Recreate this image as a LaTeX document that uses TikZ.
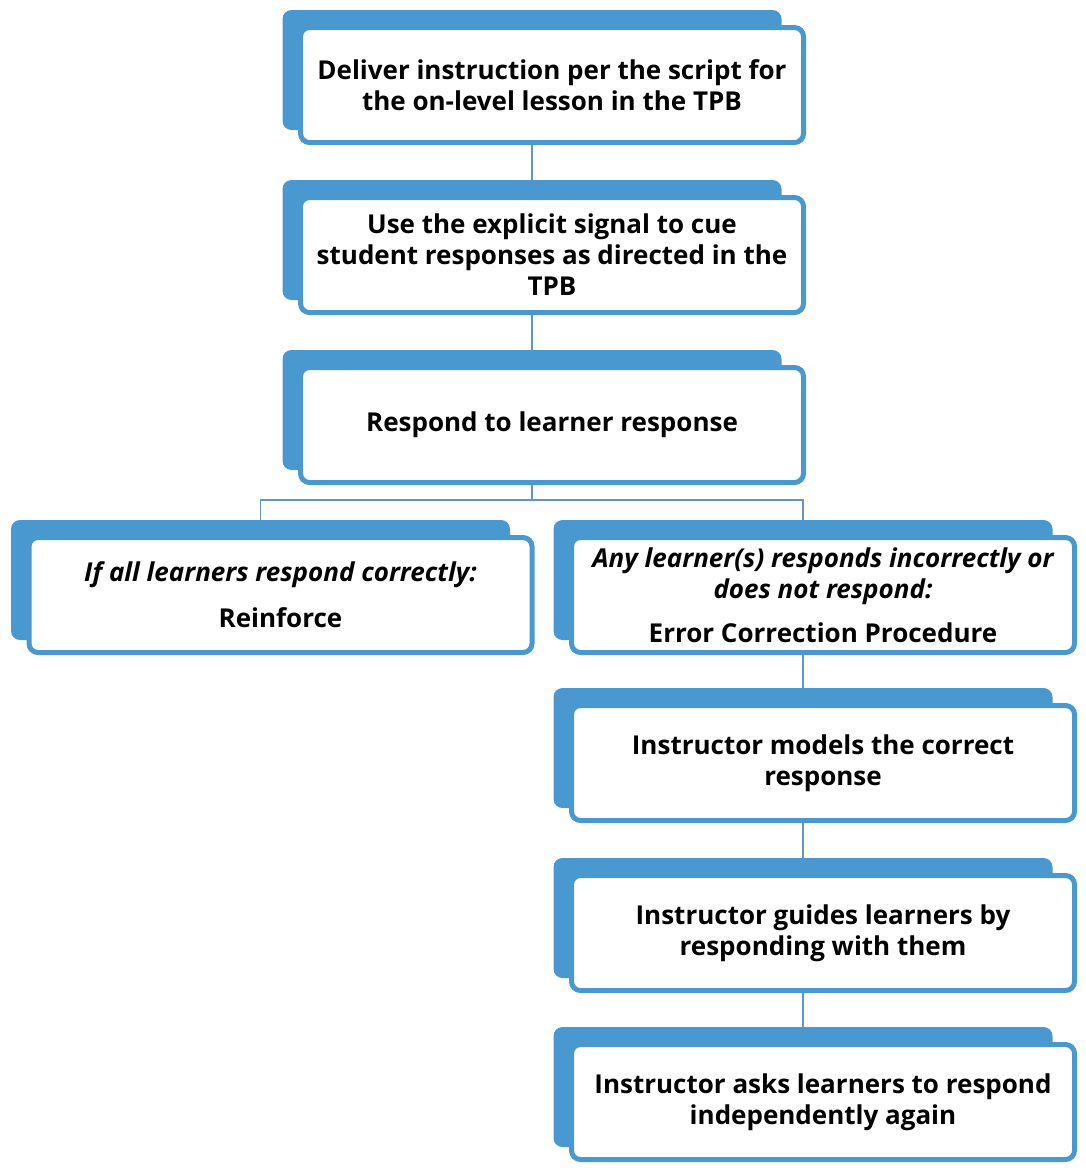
\documentclass[tikz,border=0pt]{standalone}
\usepackage{fontspec}
\setmainfont{Open Sans}
\usepackage{tikz}
\usetikzlibrary{%
  calc,%
  positioning%
}
\definecolor{cardblue}{RGB}{74,152,208}
\definecolor{linkblue}{RGB}{100,150,195}

\begin{document}
\begin{tikzpicture}[x=1pt, y=1pt,
  tab/.style={fill=cardblue, rounded corners=9pt, minimum width=499pt, minimum height=120pt, inner sep=0pt},
  card/.style={draw=cardblue, line width=5pt, fill=white, rounded corners=9pt, minimum width=503pt, minimum height=115pt, inner sep=0pt, align=center, font=\fontsize{26}{31}\selectfont\bfseries},
  link/.style={draw=linkblue, line width=1.8pt}]
\useasboundingbox (0,0) rectangle (1086,-1171);

\coordinate (split) at (532,-500);

% back tabs
\node[tab] (B1) at (532,-70) {};
\node[tab] (B2) at (532,-240) {};
\node[tab] (B3) at (532,-410) {};
\node[tab] (BL) at (260.5,-580) {};
\node[tab] (BR) at (803,-580) {};
\node[tab] (B5) at (803,-748) {};
\node[tab] (B6) at (803,-918) {};
\node[tab] (B7) at (803,-1087) {};

\draw[link]
	(B1.south) -- (B2.north)
	(B2.south) -- (B3.north)
	(B3.south) -- (split)
	(BL.north) |- (split) -| (BR.north)
	(BR.south) -- (B5.north)
	(B5.south) -- (B6.north)
	(B6.south) -- (B7.north)
;

% front cards
\node[card] (F1) at (552,-85) {Deliver instruction per the script for\\the on-level lesson in the TPB};
\node[card] (F2) at (552,-255) {Use the explicit signal to cue\\student responses as directed in the\\TPB};
\node[card] (F3) at (552,-425) {Respond to learner response};
\node[card] (FL) at (280.5,-595) {\itshape If all learners respond correctly:\\[15pt]Reinforce};
\node[card] (FR) at (823,-595) {\itshape Any learner(s) responds incorrectly or\\\itshape does not respond:\\[13pt]Error Correction Procedure};
\node[card] (F5) at (823,-763) {Instructor models the correct\\response};
\node[card] (F6) at (823,-933) {Instructor guides learners by\\responding with them};
\node[card] (F7) at (823,-1102) {Instructor asks learners to respond\\independently again};
\end{tikzpicture}
\end{document}
